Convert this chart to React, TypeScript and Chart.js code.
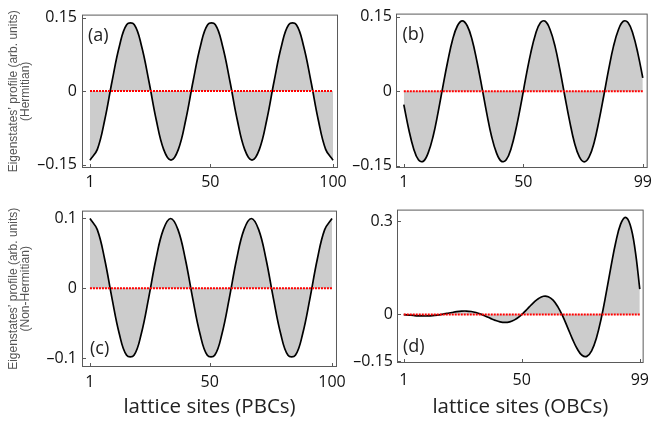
import { useEffect, useRef } from "react";
import { Chart, registerables } from "chart.js";

Chart.register(...registerables);

// ---------- data ----------
const sitesPBC = [1, 4, 7, 10, 13, 16, 19, 22, 25, 28, 31, 34, 37, 40, 43, 46, 49, 52, 55, 58, 61, 64, 67, 70, 73, 76, 79, 82, 85, 88, 91, 94, 97, 100];
const profileA = [
  -0.141, -0.119, -0.059, 0.02, 0.092, 0.136, 0.136, 0.092, 0.02, -0.059, -0.119,
  -0.141, -0.119, -0.059, 0.02, 0.092, 0.136, 0.136, 0.092, 0.02, -0.059, -0.119,
  -0.141, -0.119, -0.059, 0.02, 0.092, 0.136, 0.136, 0.092, 0.02, -0.059, -0.119,
  -0.141,
];
const profileC = [
  0.1, 0.084, 0.042, -0.014, -0.065, -0.096, -0.096, -0.065, -0.014, 0.042, 0.084,
  0.1, 0.084, 0.042, -0.014, -0.065, -0.096, -0.096, -0.065, -0.014, 0.042, 0.084,
  0.1, 0.084, 0.042, -0.014, -0.065, -0.096, -0.096, -0.065, -0.014, 0.042, 0.084,
  0.1,
];
const sitesOBC = [1, 3, 5, 7, 9, 11, 13, 15, 17, 19, 21, 23, 25, 27, 29, 31, 33, 35, 37, 39, 41, 43, 45, 47, 49, 51, 53, 55, 57, 59, 61, 63, 65, 67, 69, 71, 73, 75, 77, 79, 81, 83, 85, 87, 89, 91, 93, 95, 97, 99];
const profileB = [
  -0.027, -0.076, -0.115, -0.138, -0.141, -0.124, -0.091, -0.044, 0.009, 0.06,
  0.104, 0.132, 0.142, 0.132, 0.104, 0.06, 0.009, -0.044, -0.091, -0.124,
  -0.141, -0.138, -0.115, -0.076, -0.027, 0.027, 0.076, 0.115, 0.138, 0.141,
  0.124, 0.091, 0.044, -0.009, -0.06, -0.104, -0.132, -0.142, -0.132, -0.104,
  -0.06, -0.009, 0.044, 0.091, 0.124, 0.141, 0.138, 0.115, 0.076, 0.027,
];
const profileD = [
  -0.0006, -0.0019, -0.0032, -0.0043, -0.0048, -0.0047, -0.0038, -0.002, 0.0005, 0.0034,
  0.0064, 0.0091, 0.0108, 0.0111, 0.0096, 0.0062, 0.001, -0.0055, -0.0125, -0.019,
  -0.0238, -0.0257, -0.0237, -0.0174, -0.0067, 0.0074, 0.0234, 0.0391, 0.0517, 0.0586,
  0.0572, 0.046, 0.0246, -0.0055, -0.0415, -0.0784, -0.1105, -0.1314, -0.135, -0.117,
  -0.0755, -0.0123, 0.0669, 0.1526, 0.2319, 0.2901, 0.313, 0.2889, 0.2115, 0.0818,
];
const baselineSitesPBC = [1, 100];
const baselineSitesOBC = [1, 99];
const baselineValues = [0, 0];

const xTicksPBC = [1, 50, 100];
const xTicksOBC = [1, 50, 99];
const yTicksAB = [-0.15, 0, 0.15];
const yTicksC = [-0.1, 0, 0.1];
const yTicksD = [-0.15, 0, 0.3];

const panelLabels = ["(a)", "(b)", "(c)", "(d)"];
const yTitleHermitian = ["Eigenstates\u2019 profile (arb. units)", "(Hermitian)"];
const yTitleNonHermitian = ["Eigenstates\u2019 profile (arb. units)", "(Non-Hermitian)"];
const xTitlePBC = "lattice sites (PBCs)";
const xTitleOBC = "lattice sites (OBCs)";

// ---------- styling / layout ----------
const TICK_FONT = { family: "'Open Sans', sans-serif", size: 16 };
const FRAME_COLOR = "#5a5a5a";

type Panel = {
  left: number; top: number; width: number; height: number;
  padding: { left: number; top: number; right: number; bottom: number };
  yWidth: number; xHeight: number;
  xMin: number; xMax: number; yMin: number; yMax: number;
  sites: number[]; values: number[]; baselineSites: number[];
  xTicks: number[]; yTicks: number[];
  yTitle: string[] | null; xTitle: string | null;
  xPad: number; yPad: number;
  label: string; labelDx: number; labelDy: number; labelFromTop: boolean;
};

function fmt(v: number): string {
  if (v === 0) return "0";
  const s = String(Math.abs(v));
  return v < 0 ? "\u2013" + s : s;
}

const framePlugin = {
  id: "frame",
  afterDatasetsDraw(chart: any, _args: any, opts: any) {
    const { ctx, chartArea: a, scales } = chart;
    ctx.save();
    ctx.strokeStyle = FRAME_COLOR;
    ctx.lineWidth = 1;
    ctx.strokeRect(a.left + 0.5, a.top + 0.5, a.right - a.left - 1, a.bottom - a.top - 1);
    ctx.beginPath();
    scales.x.ticks.forEach((t: any) => {
      const px = Math.round(scales.x.getPixelForValue(t.value)) + 0.5;
      ctx.moveTo(px, a.bottom);
      ctx.lineTo(px, a.bottom - 4);
    });
    scales.y.ticks.forEach((t: any) => {
      const py = Math.round(scales.y.getPixelForValue(t.value)) + 0.5;
      ctx.moveTo(a.left, py);
      ctx.lineTo(a.left + 4, py);
    });
    ctx.stroke();
    ctx.fillStyle = "#222222";
    ctx.font = "18px 'Open Sans', sans-serif";
    ctx.textBaseline = "middle";
    ctx.textAlign = "left";
    const y = opts.fromTop ? a.top + opts.dy : a.bottom - opts.dy;
    ctx.fillText(opts.text, a.left + opts.dx, y);
    ctx.restore();
  },
};

const panels: Panel[] = [
  {
    left: 0, top: 0, width: 352, height: 196,
    padding: { left: 0, top: 10, right: 13, bottom: 0 },
    yWidth: 82, xHeight: 28,
    xMin: -2.25, xMax: 102.03, yMin: -0.157, yMax: 0.156,
    sites: sitesPBC, values: profileA, baselineSites: baselineSitesPBC,
    xTicks: xTicksPBC, yTicks: yTicksAB,
    yTitle: yTitleHermitian, xTitle: null,
    xPad: 5, yPad: 5,
    label: panelLabels[0], labelDx: 6, labelDy: 21, labelFromTop: true,
  },
  {
    left: 340, top: 0, width: 317, height: 196,
    padding: { left: 0, top: 10, right: 3, bottom: 0 },
    yWidth: 56, xHeight: 28,
    xMin: -2.2, xMax: 101, yMin: -0.1545, yMax: 0.1565,
    sites: sitesOBC, values: profileB, baselineSites: baselineSitesOBC,
    xTicks: xTicksOBC, yTicks: yTicksAB,
    yTitle: null, xTitle: null,
    xPad: 5, yPad: 4,
    label: panelLabels[1], labelDx: 6.5, labelDy: 21, labelFromTop: true,
  },
  {
    left: 0, top: 196, width: 352, height: 226,
    padding: { left: 0, top: 12, right: 13, bottom: 0 },
    yWidth: 82, xHeight: 55,
    xMin: -2.25, xMax: 102.03, yMin: -0.1127, yMax: 0.1113,
    sites: sitesPBC, values: profileC, baselineSites: baselineSitesPBC,
    xTicks: xTicksPBC, yTicks: yTicksC,
    yTitle: yTitleNonHermitian, xTitle: xTitlePBC,
    xPad: 6, yPad: 5,
    label: panelLabels[2], labelDx: 8, labelDy: 18, labelFromTop: false,
  },
  {
    left: 340, top: 196, width: 317, height: 226,
    padding: { left: 0, top: 10, right: 4, bottom: 0 },
    yWidth: 57, xHeight: 59,
    xMin: -1.8, xMax: 100.6, yMin: -0.1563, yMax: 0.3378,
    sites: sitesOBC, values: profileD, baselineSites: baselineSitesOBC,
    xTicks: xTicksOBC, yTicks: yTicksD,
    yTitle: null, xTitle: xTitleOBC,
    xPad: 8, yPad: 4,
    label: panelLabels[3], labelDx: 6, labelDy: 16, labelFromTop: false,
  },
];

function buildConfig(p: Panel): any {
  const curve = p.sites.map((s, i) => ({ x: s, y: p.values[i] }));
  const zero = p.baselineSites.map((s, i) => ({ x: s, y: baselineValues[i] }));
  return {
    type: "line",
    data: {
      datasets: [
        {
          data: zero,
          borderColor: "#ff0000",
          borderWidth: 2,
          borderDash: [2, 1],
          pointRadius: 0,
          fill: false,
          tension: 0,
        },
        {
          data: curve,
          borderColor: "#000000",
          borderWidth: 1.7,
          pointRadius: 0,
          fill: "origin",
          backgroundColor: "#cccccc",
          tension: 0.4,
        },
      ],
    },
    options: {
      responsive: false,
      animation: false,
      events: [],
      layout: { padding: p.padding },
      plugins: {
        legend: { display: false },
        tooltip: { enabled: false },
        frame: { text: p.label, dx: p.labelDx, dy: p.labelDy, fromTop: p.labelFromTop },
      },
      scales: {
        x: {
          type: "linear",
          min: p.xMin,
          max: p.xMax,
          afterFit: (s: any) => { s.height = p.xHeight; },
          afterBuildTicks: (s: any) => { s.ticks = p.xTicks.map((v) => ({ value: v })); },
          grid: { display: false, drawTicks: false },
          border: { display: false },
          ticks: {
            font: TICK_FONT,
            color: "#111111",
            padding: p.xPad,
            maxRotation: 0,
            autoSkip: false,
            callback: (v: number) => fmt(v),
          },
          title: p.xTitle
            ? {
                display: true,
                text: p.xTitle,
                font: { family: "'Open Sans', sans-serif", size: 20.5, lineHeight: 1.2 },
                color: "#222222",
                padding: { top: 0, bottom: 2.7 },
              }
            : { display: false },
        },
        y: {
          type: "linear",
          min: p.yMin,
          max: p.yMax,
          afterFit: (s: any) => { s.width = p.yWidth; },
          afterBuildTicks: (s: any) => { s.ticks = p.yTicks.map((v) => ({ value: v })); },
          grid: { display: false, drawTicks: false },
          border: { display: false },
          ticks: {
            font: TICK_FONT,
            color: "#111111",
            padding: p.yPad,
            autoSkip: false,
            callback: (v: number) => fmt(v),
          },
          title: p.yTitle
            ? {
                display: true,
                text: p.yTitle,
                font: { family: "'Liberation Sans', Arial, sans-serif", size: 12, lineHeight: 1.0 },
                color: "#555555",
                padding: { top: 7.6, bottom: 0 },
              }
            : { display: false },
        },
      },
    },
    plugins: [framePlugin],
  };
}

function PanelChart({ p }: { p: Panel }) {
  const ref = useRef<HTMLCanvasElement | null>(null);
  useEffect(() => {
    if (!ref.current) return;
    const chart = new Chart(ref.current, buildConfig(p));
    return () => chart.destroy();
  }, [p]);
  return (
    <canvas
      ref={ref}
      width={p.width}
      height={p.height}
      style={{ position: "absolute", left: p.left, top: p.top, width: p.width, height: p.height }}
    />
  );
}

export default function App() {
  return (
    <div style={{ position: "absolute", left: 0, top: 0, width: 657, height: 422, background: "#ffffff", overflow: "hidden" }}>
      {panels.map((p, i) => (
        <PanelChart key={i} p={p} />
      ))}
    </div>
  );
}
